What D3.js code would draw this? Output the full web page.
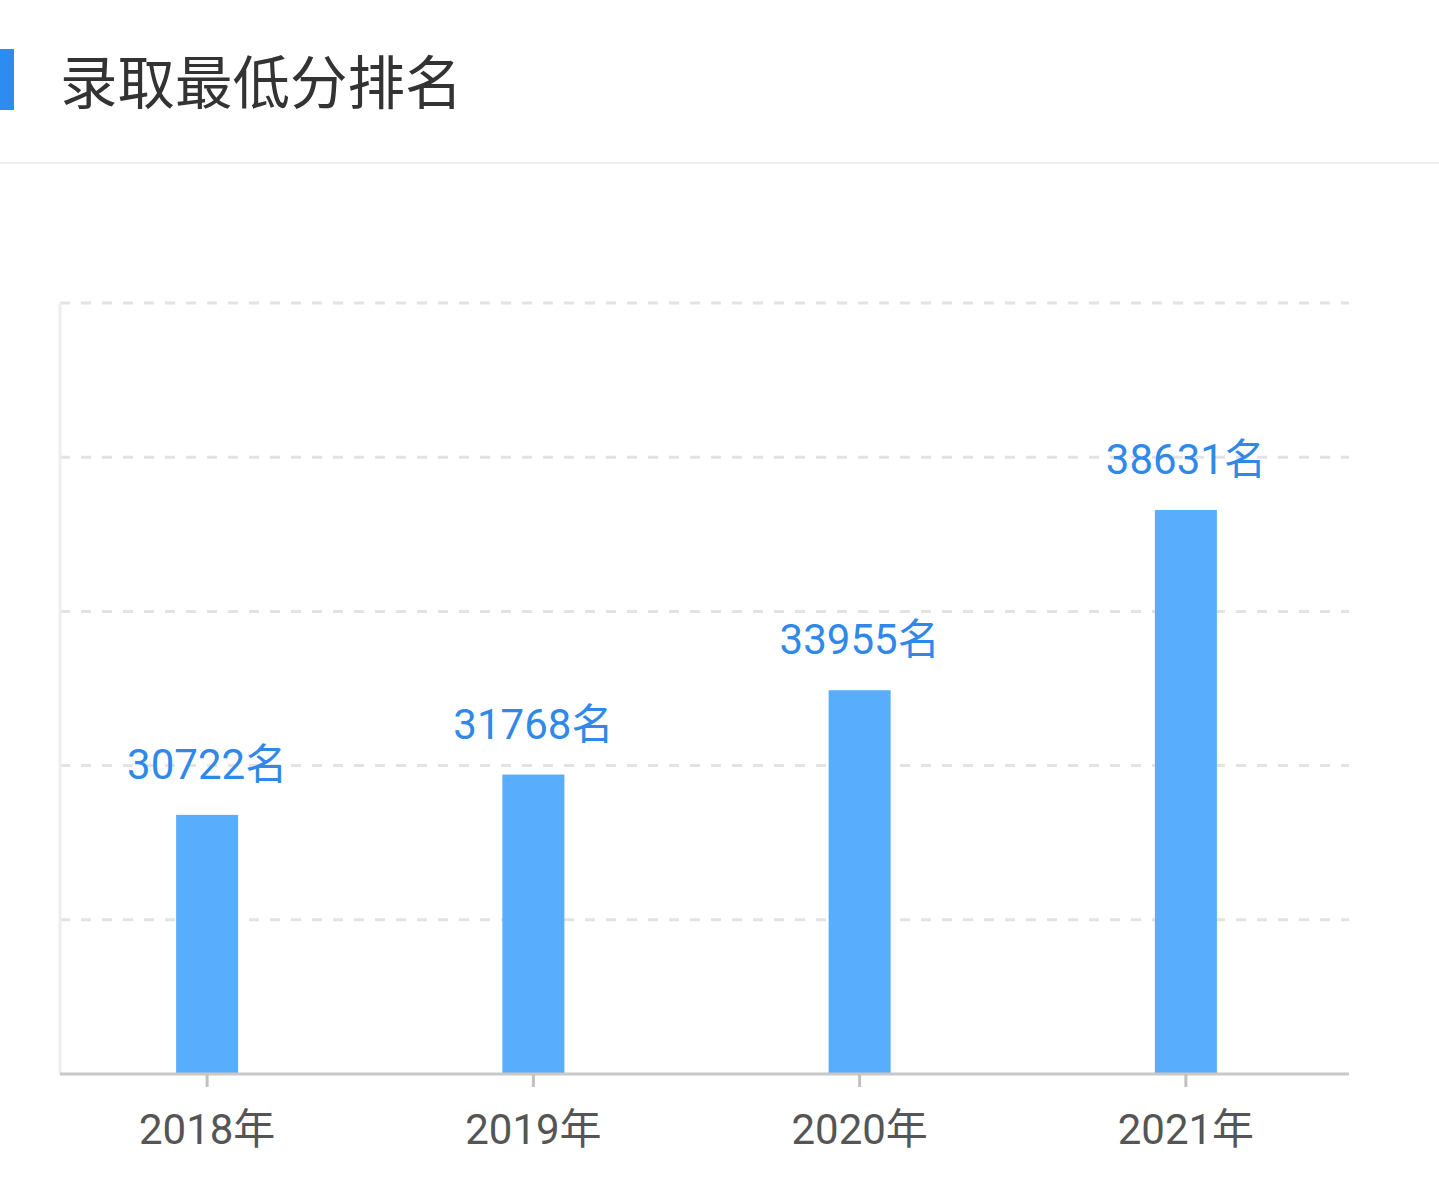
<!DOCTYPE html>
<html><head><meta charset="utf-8">
<script src="https://cdn.jsdelivr.net/npm/d3@7"></script>
<style>
html,body{margin:0;padding:0;background:#fff;}
svg{display:block;font-family:Roboto,"Noto Sans CJK SC",sans-serif;}
</style></head>
<body>
<svg id="c" width="1439" height="1186"></svg>
<script>
const title = "录取最低分排名";
const categories = ["2018年","2019年","2020年","2021年"];
const values = [30722, 31768, 33955, 38631];
const valueSuffix = "名";
const yTicks = [24000, 28000, 32000, 36000, 40000, 44000];

const svg = d3.select("#c");
const W = 1439;

// header
svg.append("rect").attr("x",0).attr("y",49).attr("width",14).attr("height",61).attr("fill","#2d8cf0");
svg.append("text").attr("x",60).attr("y",104).attr("font-size",57.5)
  .attr("font-family",'"Noto Sans CJK SC",sans-serif').attr("fill","#333").text(title);
svg.append("line").attr("x1",0).attr("x2",W).attr("y1",163).attr("y2",163)
  .attr("stroke","#eeeeee").attr("stroke-width",2);

const x = d3.scaleBand().domain(categories).range([44,1349]);
const y = d3.scaleLinear().domain([24000,44000]).range([1074,303]);
const plotL = 60, plotR = 1349;

// gridlines
svg.append("g").selectAll("line").data(yTicks.slice(1)).join("line")
  .attr("x1",plotL).attr("x2",plotR)
  .attr("y1",d=>y(d)).attr("y2",d=>y(d))
  .attr("stroke","#e3e3e3").attr("stroke-width",3).attr("stroke-dasharray","10,11");

// y axis line
svg.append("line").attr("x1",plotL).attr("x2",plotL).attr("y1",y(44000)).attr("y2",y(24000))
  .attr("stroke","#eeeeee").attr("stroke-width",3);

// bars
const bw = 62;
svg.append("g").selectAll("rect").data(values).join("rect")
  .attr("x",(d,i)=>x(categories[i])+x.bandwidth()/2-bw/2)
  .attr("y",d=>y(d)).attr("width",bw).attr("height",d=>y(24000)-y(d))
  .attr("fill","#58adfc");

// value labels
svg.append("g").selectAll("text").data(values).join("text")
  .attr("x",(d,i)=>x(categories[i])+x.bandwidth()/2)
  .attr("y",d=>y(d)-36).attr("text-anchor","middle")
  .attr("font-size",42).attr("fill","#3088e8")
  .text(d=>d+valueSuffix);

// x axis
const xAxis = d3.axisBottom(x).tickSize(13).tickPadding(27).tickSizeOuter(0);
const gx = svg.append("g").attr("transform","translate(0,1074)").call(xAxis);
gx.select(".domain").attr("d",`M${plotL},0H${plotR}`).attr("stroke","#c8c8c8").attr("stroke-width",3);
gx.selectAll(".tick line").attr("stroke","#c0c0c0").attr("stroke-width",3);
gx.selectAll(".tick text").attr("font-size",42).attr("fill","#555")
  .attr("font-family",'Roboto,"Noto Sans CJK SC",sans-serif');
</script>
</body></html>
